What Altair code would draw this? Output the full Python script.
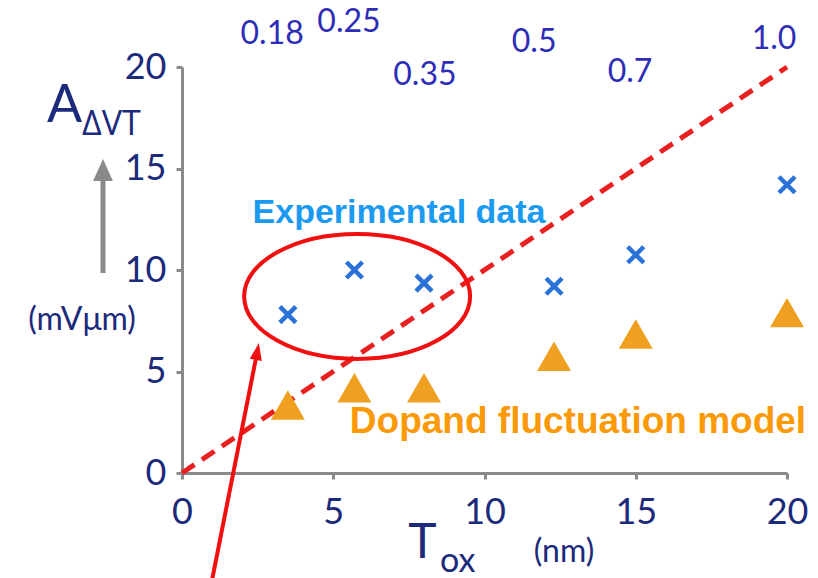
import altair as alt
import pandas as pd

# ---- data ----
tox = [3.5, 5.7, 8.0, 12.3, 15.0, 20.0]                 # oxide thickness (nm)
experimental = [7.8, 10.0, 9.35, 9.2, 10.75, 14.2]       # A_dVT measured (mV um)
dopant_model = [3.35, 4.2, 4.2, 5.75, 6.85, 7.9]         # dopant fluctuation model

node_labels = ["0.18", "0.25", "0.35", "0.5", "0.7", "1.0"]   # technology node (um)
node_label_x = [2.98, 5.52, 8.03, 11.64, 14.81, 19.57]
node_label_y = [21.63, 22.24, 19.63, 21.21, 19.73, 21.38]

diag_x = [0, 20]
diag_y = [0, 20]

x_ticks = [0, 5, 10, 15, 20]
y_ticks = [0, 5, 10, 15, 20]

# annotation anchors (data units)
ellipse_center = [5.79, 8.7]
arrow_tail = [0.95, -5.6]
arrow_head = [2.49, 5.99]
arrow_angle = 10.6

NAVY = "#1b2a7a"
AXIS_GRAY = "#8a8a8a"
RED = "#f01010"

xs = alt.Scale(domain=[0, 20], nice=False, zero=False)
ys = alt.Scale(domain=[0, 20], nice=False, zero=False)

common_axis = dict(
    title=None, grid=False, domainColor=AXIS_GRAY, domainWidth=3,
    tickColor=AXIS_GRAY, tickWidth=3, tickSize=6, labelFlush=False,
    labelFont="Lato", labelFontSize=36, labelColor=NAVY,
)
x_axis = alt.Axis(values=x_ticks, labelPadding=16, **common_axis)
y_axis = alt.Axis(values=y_ticks, labelPadding=10, **common_axis)


def X(f="x"):
    return alt.X(f"{f}:Q", scale=xs, axis=x_axis)


def Y(f="y"):
    return alt.Y(f"{f}:Q", scale=ys, axis=y_axis)


df_exp = pd.DataFrame({"x": tox, "y": experimental})
df_mod = pd.DataFrame({"x": tox, "y": dopant_model})
df_diag = pd.DataFrame({"x": diag_x, "y": diag_y})
df_nodes = pd.DataFrame({"x": node_label_x, "y": node_label_y, "t": node_labels})

ELLIPSE = ("M-1,0C-1,-0.3054 -0.5523,-0.553 0,-0.553C0.5523,-0.553 1,-0.3054 1,0"
           "C1,0.3054 0.5523,0.553 0,0.553C-0.5523,0.553 -1,0.3054 -1,0Z")
CROSS = "M-1,-1L1,1M-1,1L1,-1"
HEAD = "M0,-1L-0.72,1L0.72,1Z"
GHEAD = "M0,-1L-0.9,1L0.9,1Z"

diag = alt.Chart(df_diag).mark_line(
    color="#e82020", strokeWidth=5, strokeDash=[15, 9]
).encode(x=X(), y=Y())

tri = alt.Chart(df_mod).mark_point(
    shape="triangle-up", size=1156, filled=True, color="#f0a020", opacity=1
).encode(x=X(), y=Y())

crosses = alt.Chart(df_exp).mark_point(
    shape=CROSS, size=256, filled=False, stroke="#2a72d8", strokeWidth=4.5, opacity=1
).encode(x=X(), y=Y())

nodes = alt.Chart(df_nodes).mark_text(
    font="Lato", fontSize=32, color="#2d2db8", align="center", baseline="middle"
).encode(x=X(), y=Y(), text="t:N")

ell = alt.Chart(pd.DataFrame({"x": [ellipse_center[0]], "y": [ellipse_center[1]]})).mark_point(
    shape=ELLIPSE, size=51076, filled=False, stroke=RED, strokeWidth=4, opacity=1
).encode(x=X(), y=Y())

arrow_rule = alt.Chart(pd.DataFrame({
    "x": [arrow_tail[0]], "y": [arrow_tail[1]], "x2": [arrow_head[0]], "y2": [arrow_head[1]]
})).mark_rule(color=RED, strokeWidth=4).encode(
    x=X(), y=Y(), x2="x2:Q", y2="y2:Q"
)

arrow_tip = alt.Chart(pd.DataFrame({"x": [arrow_head[0]], "y": [arrow_head[1]]})).mark_point(
    shape=HEAD, size=289, filled=True, color=RED, opacity=1, angle=arrow_angle
).encode(x=X(), y=Y())

one = pd.DataFrame({"d": [0]})


def label(text, x, y, size, color=NAVY, font="Lato", weight="normal", align="center", baseline="alphabetic"):
    return alt.Chart(one).mark_text(
        text=text, font=font, fontSize=size, color=color, fontWeight=weight,
        align=align, baseline=baseline
    ).encode(x=alt.value(x), y=alt.value(y))


exp_label = label("Experimental data", 217, 156, 34, color="#1a9af0",
                  font="Liberation Sans", weight="bold")
mod_label = label("Dopand fluctuation model", 396, 366, 37, color="#fb9a06",
                  font="Liberation Sans", weight="bold")

a_big = label("A", -117.5, 55, 52)
a_sub = label("ΔVT", -100, 68, 34, font="Open Sans", align="left")
units_y = label("(mVμm)", -100, 253, 32, baseline="middle")
t_big = label("T", 240.5, 491, 48)
t_sub = label("ox", 258, 505, 34, align="left")
units_x = label("(nm)", 382, 495, 32)

gray_shaft = alt.Chart(one).mark_rule(color=AXIS_GRAY, strokeWidth=5).encode(
    x=alt.value(-79), y=alt.value(206), y2=alt.value(110)
)
gray_head = alt.Chart(one).mark_point(
    shape=GHEAD, size=484, filled=True, color=AXIS_GRAY, opacity=1
).encode(x=alt.value(-79), y=alt.value(103))

chart = alt.layer(
    diag, tri, crosses, nodes, ell, arrow_rule, arrow_tip,
    exp_label, mod_label, a_big, a_sub, units_y, t_big, t_sub, units_x,
    gray_shaft, gray_head,
).properties(
    width=605, height=406,
    padding={"left": 182, "top": 67, "right": 31, "bottom": 105},
    autosize=alt.AutoSizeParams(type="none"),
    background="white",
).configure_view(stroke=None)

chart.save("out.html", embed_options={"renderer": "svg", "actions": False})
